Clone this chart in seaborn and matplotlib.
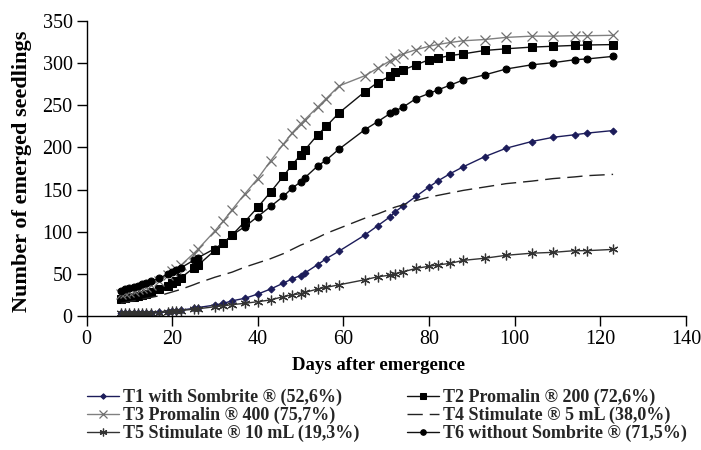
import matplotlib
matplotlib.use("Agg")
import matplotlib.pyplot as plt
import seaborn as sns
import pandas as pd

days = [8, 9, 10, 11, 12, 13, 14, 15, 17, 19, 20, 21, 22, 25, 26, 30, 32, 34, 37, 40,
        43, 46, 48, 50, 51, 54, 56, 59, 65, 68, 71, 72, 74, 77, 80, 82, 85, 88, 93, 98,
        104, 109, 114, 117, 123]

t1 = [3, 3, 3, 3, 3.5, 3.5, 4, 4, 4.5, 5, 5.5, 6, 7, 9, 10, 13, 15, 18, 21, 26,
      32, 39, 44, 48, 51, 61, 68, 77, 96, 107, 118, 123, 131, 142, 153, 160, 169, 177, 189, 199,
      207, 212, 215, 217, 220]
t2 = [20, 21, 22, 23, 24, 25, 26, 28, 31.7, 36, 39, 42, 45, 57, 60, 78, 86, 96, 112, 129,
      147, 166, 179, 191, 197, 215, 225, 241, 266, 277, 285, 289, 292, 298, 304, 306, 309, 311, 315, 317,
      319, 320, 321, 321.5, 322]
t3 = [26, 27, 28.5, 30, 31.5, 33, 34.5, 36.5, 42, 49, 53, 56, 60, 74, 79, 101, 113, 126, 145, 163,
      184, 204, 217, 228, 233, 248, 258, 273, 285, 294, 303, 306, 311, 316, 320, 322, 324.5, 326.5, 328, 330.5,
      332, 332, 332.5, 332.5, 333]
t4 = [15, 16, 17, 18, 19, 20, 21, 22, 24, 27, 28.5, 30, 31.5, 37, 39, 46, 49, 52, 58, 63,
      68, 74, 79, 84, 86, 93, 98, 104, 116, 121, 127, 129, 132, 137, 141, 143, 146, 149, 153, 157,
      160, 163, 165, 166.5, 168]
t5 = [3, 3, 3, 3, 3, 3, 3.5, 3.5, 4, 5, 5.5, 6, 6.5, 8, 8.5, 11, 12, 13.5, 15, 17,
      19, 23, 25, 26.5, 28, 32, 34, 37, 43, 46.5, 48.5, 50, 52.5, 56.5, 59, 60.5, 62.5, 66, 68.5, 72,
      74.5, 75.5, 77.5, 77.5, 79]
t6 = [30, 31.5, 33, 34.5, 36, 37.5, 39, 41, 44.7, 50, 52, 54, 57, 66, 69, 80, 87, 96, 106, 118,
      130, 142, 151.5, 159, 164, 178, 185, 198, 221, 230.5, 240.5, 243, 248, 258, 264, 268, 274, 280, 286, 293,
      298, 300.5, 304, 305, 308]

labels = ["T1 with Sombrite ® (52,6%)", "T2 Promalin ® 200 (72,6%)",
          "T3 Promalin ® 400 (75,7%)", "T4 Stimulate ® 5 mL (38,0%)",
          "T5 Stimulate ® 10 mL (19,3%)", "T6 without Sombrite ® (71,5%)"]
series = [t1, t2, t3, t4, t5, t6]

sns.set_theme(style="white")
plt.rcParams['font.family'] = ['Liberation Serif', 'DejaVu Serif']

fig = plt.figure(figsize=(7.01, 4.5), dpi=100)
ax = fig.add_axes([0.1234, 0.2978, 0.855, 0.6556])

styles = [
    dict(marker="D", markersize=3.5, color="#1c1c5a", markerfacecolor="#1c1c5a", markeredgecolor="#1c1c5a", linestyle="-"),
    dict(marker="s", markersize=5.5, color="#111111", markerfacecolor="#000000", markeredgecolor="#000000", linestyle="-"),
    dict(marker="x", markersize=6.5, color="#808080", markeredgecolor="#707070", markeredgewidth=0.9, linestyle="-"),
    dict(marker=None, color="#222222", linestyle=(0, (11, 5))),
    dict(marker=(6, 2, 0), markersize=7, color="#333333", markeredgecolor="#333333", markeredgewidth=0.9, linestyle="-"),
    dict(marker="o", markersize=5, color="#111111", markerfacecolor="#000000", markeredgecolor="#000000", linestyle="-"),
]

for vals, lab, st in zip(series, labels, styles):
    df = pd.DataFrame({"day": days, "n": vals})
    sns.lineplot(data=df, x="day", y="n", ax=ax, label=lab, linewidth=1.0, **st)

ax.set_xlim(0, 140)
ax.set_ylim(0, 350)
ax.set_xticks(range(0, 141, 20))
ax.set_yticks(range(0, 351, 50))
for s in ["top", "right"]:
    ax.spines[s].set_visible(False)
for s in ["left", "bottom"]:
    ax.spines[s].set_color("black")
    ax.spines[s].set_linewidth(1.0)
ax.tick_params(axis="both", direction="out", length=7, width=1, color="black",
               labelsize=14.5, labelcolor="black", left=True, bottom=True, pad=3)
ax.set_xlabel("Days after emergence", fontsize=13.5, fontweight="bold", color="black")
ax.xaxis.set_label_coords(0.488, -0.14)
ax.set_ylabel("Number of emerged seedlings", fontsize=16, fontweight="bold", color="black")
ax.yaxis.set_label_coords(-0.091, 0.49)

handles, labs = ax.get_legend_handles_labels()
order = [0, 2, 4, 1, 3, 5]
leg = ax.legend([handles[i] for i in order], [labs[i] for i in order],
                loc="upper left", bbox_to_anchor=(-0.012, -0.222), ncol=2, frameon=False,
                fontsize=13, handlelength=1.8, handletextpad=0.2, columnspacing=2.65,
                labelspacing=0.05, borderaxespad=0, markerscale=0.8)
for t in leg.get_texts():
    t.set_fontweight("bold")

fig.savefig("out.png", dpi=100)
